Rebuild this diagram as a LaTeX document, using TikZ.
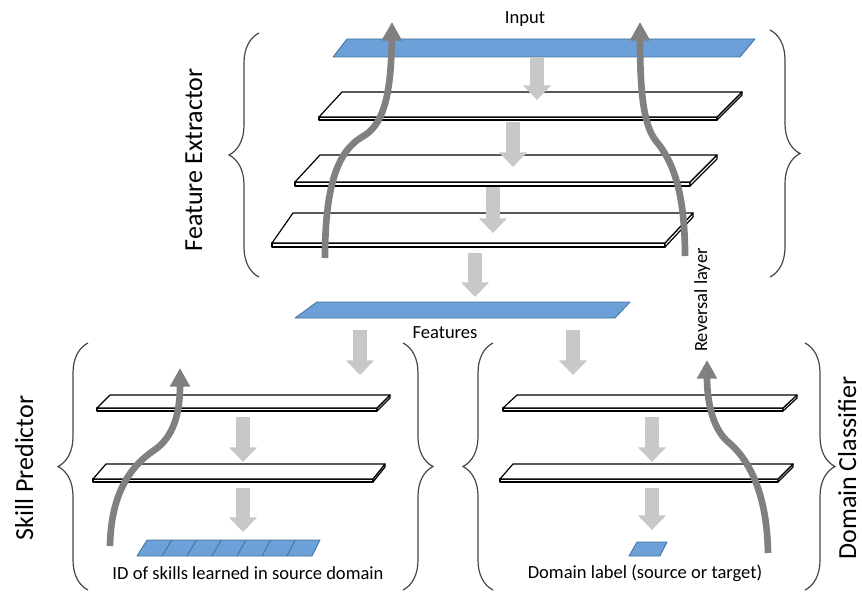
\documentclass[tikz,border=0pt]{standalone}
\usepackage{fontspec}
\setmainfont{Carlito}
\usetikzlibrary{calc,arrows.meta,decorations.pathreplacing}
\definecolor{planeblue}{RGB}{107,160,216}
\definecolor{planeedge}{RGB}{65,113,156}
\definecolor{blockgray}{RGB}{200,200,200}
\definecolor{flowgray}{RGB}{128,128,128}
\definecolor{bracegray}{RGB}{70,70,70}
\tikzset{
  slabline/.style={fill=white,draw=black,line width=0.9pt,line join=round},
  blueplane/.style={fill=planeblue,draw=planeedge,line width=0.6pt,line join=round},
  blockarrow/.style={draw=blockgray,line width=11pt,-{Triangle[length=11pt,width=20.5pt]}},
  flowarrow/.style={draw=flowgray,line width=5pt,-{Triangle[length=14pt,width=14.5pt]}},
  bracestyle/.style={draw=bracegray,line width=0.9pt,decorate,decoration={brace,amplitude=22.5pt}},
  smalltxt/.style={font=\fontsize{13.9}{16}\selectfont,inner sep=0pt},
  bigtxt/.style={font=\fontsize{19.5}{22}\selectfont,inner sep=0pt}
}
\newcommand{\slab}[5]{%
  \draw[slabline] (#4) -- (#3) -- ($(#3)+(0,#5)$) -- ($(#4)+(0,#5)$) -- cycle;
  \draw[slabline] (#3) -- (#2) -- ($(#2)+(0,#5)$) -- ($(#3)+(0,#5)$) -- cycle;
  \draw[slabline] (#1) -- (#2) -- (#3) -- (#4) -- cycle;
}
\begin{document}
\begin{tikzpicture}[x=0.75pt,y=-0.75pt]
\useasboundingbox (0,0) rectangle (862,592);

% ---------- Feature extractor ----------
\draw[blueplane] (347,39) -- (755,39) -- (740,57) -- (333,57) -- cycle;
\slab{342,92}{742,92}{717,117}{319,117}{3}
\slab{320,155}{717,155}{690,182}{295,182}{4}
\slab{293,213}{693,213}{665,243}{272,243}{4}

% features plane
\draw[blueplane] (317,302) -- (630,302) -- (615,318) -- (295,318) -- cycle;

% ---------- Skill predictor ----------
\slab{110,395}{390,395}{377,408}{97,408}{3}
\slab{106,464}{385,464}{373,479}{93,479}{3}
\draw[blueplane] (147,540) -- (320,540) -- (312,556) -- (137,556) -- cycle;
\foreach \k in {1,...,6}{
  \draw[planeedge,line width=0.6pt] ({147+\k*173/7},540) -- ({137+\k*175/7},556);
}

% ---------- Domain classifier ----------
\slab{517,395}{797,395}{783,408}{503,408}{3}
\slab{513,464}{793,464}{778,479}{500,479}{3}
\draw[blueplane] (637,542) -- (667,542) -- (660,556) -- (629,556) -- cycle;

% ---------- block arrows ----------
\coordinate (b1s) at (537,57);  \coordinate (b1e) at (537,100);
\coordinate (b2s) at (513,122); \coordinate (b2e) at (513,167);
\coordinate (b3s) at (493,187); \coordinate (b3e) at (493,233);
\coordinate (b4s) at (475,253); \coordinate (b4e) at (475,297);
\coordinate (b5s) at (360,330); \coordinate (b5e) at (360,375);
\coordinate (b6s) at (573,330); \coordinate (b6e) at (573,375);
\coordinate (b7s) at (243,417); \coordinate (b7e) at (243,462);
\coordinate (b8s) at (243,488); \coordinate (b8e) at (243,532);
\coordinate (b9s) at (652,417); \coordinate (b9e) at (652,462);
\coordinate (b10s) at (652,488); \coordinate (b10e) at (652,530);
\foreach \i in {1,...,10}{\draw[blockarrow] (b\i s) -- (b\i e);}

% ---------- curved flow arrows ----------
\coordinate (fl1) at (325,258); \coordinate (fl1t) at (392,22);
\draw[flowarrow] (fl1) .. controls (325,180) and (340,150) .. (362,137)
  .. controls (382,126) and (391,100) .. (fl1t);
\coordinate (fr1) at (685,256); \coordinate (fr1t) at (640,22);
\draw[flowarrow] (fr1) .. controls (685,190) and (672,160) .. (656,141)
  .. controls (645,127) and (640,100) .. (fr1t);
\coordinate (sp1) at (110,546); \coordinate (sp1t) at (180,368);
\draw[flowarrow] (sp1) .. controls (111,490) and (133,465) .. (153,451)
  .. controls (170,440) and (180,420) .. (sp1t);
\coordinate (dc1) at (768,553); \coordinate (dc1t) at (707,360);
\draw[flowarrow] (dc1) .. controls (767,490) and (747,457) .. (727,441)
  .. controls (712,427) and (707,400) .. (dc1t);

% ---------- braces ----------
\draw[bracestyle] (259,277) -- (259,33);
\draw[bracestyle] (770,30) -- (770,277);
\draw[bracestyle] (88,590) -- (88,343);
\draw[bracestyle] (403,343) -- (403,590);
\draw[bracestyle] (493,590) -- (493,343);
\draw[bracestyle] (805,343) -- (805,590);

% ---------- texts ----------
\node[smalltxt,anchor=base] (input) at (525,24) {Input};
\node[smalltxt,anchor=base] (feat) at (445,338) {Features};
\node[smalltxt,anchor=base] (idtxt) at (248,579) {ID of skills learned in source domain};
\node[smalltxt,anchor=base] (domtxt) at (645,578) {Domain label (source or target)};
\node[smalltxt,rotate=90,anchor=base] (rev) at (707,300) {Reversal layer};
\node[bigtxt,rotate=90,anchor=base] (fe) at (202,160) {Feature Extractor};
\node[bigtxt,rotate=90,anchor=base] (sp) at (33,468) {Skill Predictor};
\node[bigtxt,rotate=90,anchor=base] (dc) at (856,468) {Domain Classifier};
\end{tikzpicture}
\end{document}
